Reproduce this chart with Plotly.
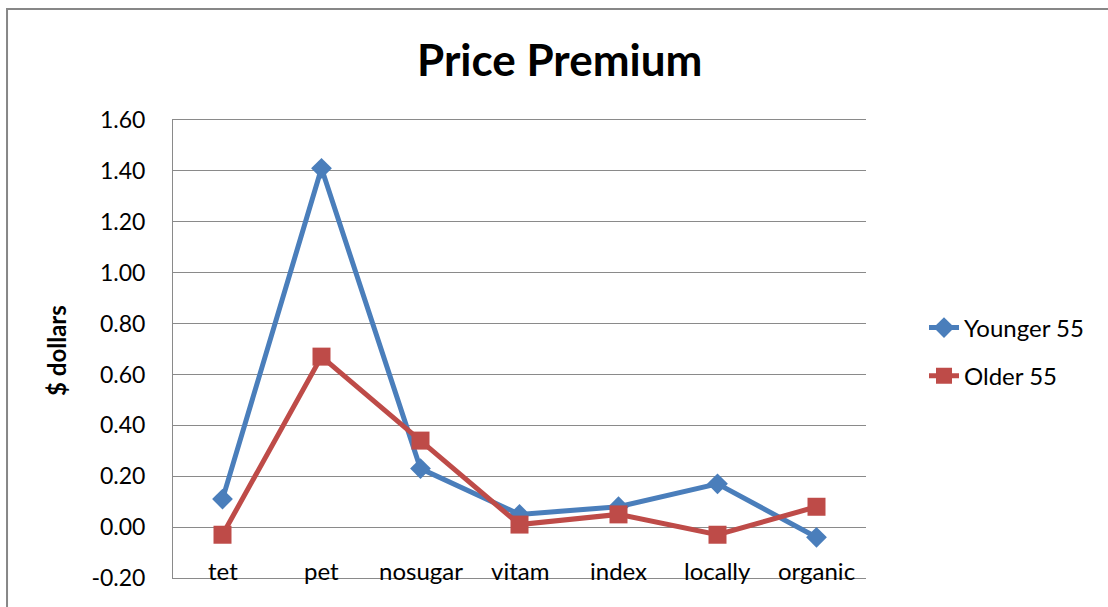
import plotly.graph_objects as go

categories = ["tet", "pet", "nosugar", "vitam", "index", "locally", "organic"]
younger_55 = [0.11, 1.41, 0.23, 0.05, 0.08, 0.17, -0.04]
older_55 = [-0.03, 0.67, 0.34, 0.01, 0.05, -0.03, 0.08]
y_tick_values = [-0.2, 0.0, 0.2, 0.4, 0.6, 0.8, 1.0, 1.2, 1.4, 1.6]
y_tick_labels = ["-0.20", "0.00", "0.20", "0.40", "0.60", "0.80", "1.00", "1.20", "1.40", "1.60"]

FONT = "Lato, Noto Sans, sans-serif"
GRID = "#8a8a8a"

fig = go.Figure()
fig.add_trace(go.Scatter(
    x=categories, y=younger_55, name="Younger 55", mode="lines+markers",
    line=dict(color="#4a7ebb", width=5),
    marker=dict(symbol="diamond", size=16, color="#4a7ebb"),
    cliponaxis=False, legendgroup="a",
))
fig.add_trace(go.Scatter(
    x=categories, y=older_55, name="Older 55", mode="lines+markers",
    line=dict(color="#be4b48", width=5),
    marker=dict(symbol="square", size=18, color="#be4b48"),
    cliponaxis=False, legendgroup="b",
))

# category labels drawn inside the plot area near the bottom, as in the reference
for c in categories:
    fig.add_annotation(x=c, y=-0.172, xref="x", yref="y", text=c, showarrow=False,
                       font=dict(family=FONT, size=24, color="black"),
                       xanchor="center", yanchor="middle")

fig.add_annotation(x=-0.1674, y=0.498, xref="paper", yref="paper", text="<b>$ dollars</b>",
                   textangle=-90, showarrow=False,
                   font=dict(family=FONT, size=24, color="black"),
                   xanchor="center", yanchor="middle")

fig.add_shape(type="rect", xref="paper", yref="paper",
              x0=-0.2395, x1=1.40, y0=-0.2, y1=1.2424,
              line=dict(color="#878787", width=2), fillcolor="rgba(0,0,0,0)", layer="above")

fig.update_layout(
    width=1108, height=607,
    margin=dict(l=173, r=242, t=120, b=29, autoexpand=False),
    paper_bgcolor="white", plot_bgcolor="white",
    font=dict(family=FONT, size=24, color="black"),
    title=dict(text="<b>Price Premium</b>", x=0.558, xref="paper", xanchor="center",
               y=1 - 61 / 607, yref="container", yanchor="middle",
               font=dict(family=FONT, size=44, color="black")),
    showlegend=True,
    legend=dict(x=1.0837, y=0.595, xanchor="left", yanchor="top",
                traceorder="grouped", tracegroupgap=14,
                font=dict(family=FONT, size=24, color="black"),
                bgcolor="rgba(0,0,0,0)"),
    xaxis=dict(type="category", range=[-0.5, 6.5], showgrid=False,
               showticklabels=False, ticks="", showline=True, mirror=True,
               linecolor=GRID, linewidth=1, zeroline=False, fixedrange=True),
    yaxis=dict(range=[-0.2, 1.6], tickvals=y_tick_values, ticktext=y_tick_labels,
               showgrid=True, gridcolor=GRID, gridwidth=1,
               zeroline=True, zerolinecolor=GRID, zerolinewidth=1,
               showline=True, linecolor=GRID, linewidth=1,
               ticks="outside", ticklen=22, tickcolor="rgba(0,0,0,0)",
               tickfont=dict(family=FONT, size=23, color="black"), fixedrange=True),
)

fig.write_html("out.html", config={"displayModeBar": False},
               post_script="document.body.style.margin='0';document.body.style.padding='0';")
